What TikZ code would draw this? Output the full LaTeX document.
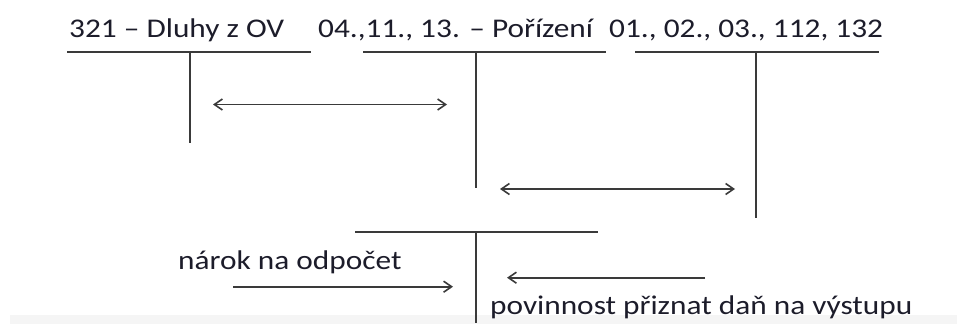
\documentclass[tikz,border=0pt]{standalone}
\usepackage{fontspec}
\setmainfont{Carlito}[FakeStretch=1.16]
\usetikzlibrary{arrows.meta}
\definecolor{linec}{HTML}{3A3A3A}
\definecolor{txtc}{HTML}{1C1C2A}
\tikzset{
  lbl/.style={anchor=base west, inner sep=0pt, text=txtc, font=\fontsize{27}{32}\selectfont},
  tline/.style={draw=linec, line width=2pt},
  arr/.style={draw=linec, line width=1.6pt, -{Straight Barb[length=8pt,width=11pt,line width=1.6pt]}},
  darr/.style={draw=linec, line width=1.6pt, {Straight Barb[length=8pt,width=11pt,line width=1.6pt]}-{Straight Barb[length=8pt,width=11pt,line width=1.6pt]}}
}
\begin{document}
\begin{tikzpicture}[x=1pt,y=-1pt]
\useasboundingbox (0,0) rectangle (957,324);
\fill[black!4] (10,315) rectangle (957,324);
% titles
\node[lbl] (t1) at (69,37.5) {321 – Dluhy z OV};
\node[lbl] (t2) at (318,37.5) {04.,11., 13. – Pořízení};
\node[lbl] (t3) at (609,37.5) {01., 02., 03., 112, 132};
\node[lbl] (n1) at (178,269) {nárok na odpočet};
\node[lbl] (n2) at (490,314) {povinnost přiznat daň na výstupu};
% T-account 1
\coordinate (a1l) at (67,52.3);
\coordinate (a1r) at (311,52.3);
\coordinate (a1t) at (190,52.3);
\coordinate (a1b) at (190,143);
\draw[tline] (a1l) -- (a1r);
\draw[tline] (a1t) -- (a1b);
% T-account 2
\coordinate (a2l) at (363,52.3);
\coordinate (a2r) at (606,52.3);
\coordinate (a2t) at (475.7,52.3);
\coordinate (a2b) at (475.7,188);
\draw[tline] (a2l) -- (a2r);
\draw[tline] (a2t) -- (a2b);
% T-account 3
\coordinate (a3l) at (635,52.3);
\coordinate (a3r) at (879,52.3);
\coordinate (a3t) at (755.7,52.3);
\coordinate (a3b) at (755.7,218);
\draw[tline] (a3l) -- (a3r);
\draw[tline] (a3t) -- (a3b);
% T-account 4
\coordinate (a4l) at (355,231.7);
\coordinate (a4r) at (598,231.7);
\coordinate (a4t) at (475.7,231.7);
\coordinate (a4b) at (475.7,323);
\draw[tline] (a4l) -- (a4r);
\draw[tline] (a4t) -- (a4b);
% arrows
\coordinate (pA1) at (213,104.5);
\coordinate (pA2) at (447,104.5);
\draw[darr] (pA1) -- (pA2);
\coordinate (pB1) at (500,189);
\coordinate (pB2) at (735,189);
\draw[darr] (pB1) -- (pB2);
\coordinate (pC1) at (233,286.7);
\coordinate (pC2) at (453,286.7);
\draw[arr] (pC1) -- (pC2);
\coordinate (pD1) at (705,277.7);
\coordinate (pD2) at (507,277.7);
\draw[arr] (pD1) -- (pD2);
\end{tikzpicture}
\end{document}
